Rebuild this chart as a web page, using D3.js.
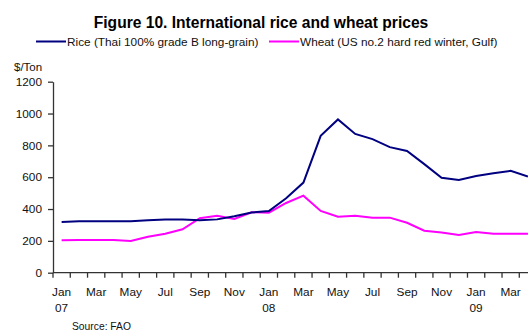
<!DOCTYPE html>
<html>
<head>
<meta charset="utf-8">
<script src="https://cdn.jsdelivr.net/npm/d3@7"></script>
<style>
  body { margin: 0; background: #fff; }
  svg { display: block; font-family: "Liberation Sans", Arial, sans-serif; }
</style>
</head>
<body>
<svg id="chart"></svg>
<script>
// monthly categories, Jan 07 .. Apr 09
var months = ["Jan 07","Feb 07","Mar 07","Apr 07","May 07","Jun 07","Jul 07","Aug 07","Sep 07","Oct 07","Nov 07","Dec 07",
              "Jan 08","Feb 08","Mar 08","Apr 08","May 08","Jun 08","Jul 08","Aug 08","Sep 08","Oct 08","Nov 08","Dec 08",
              "Jan 09","Feb 09","Mar 09","Apr 09"];
var monthLabels = ["Jan","","Mar","","May","","Jul","","Sep","","Nov","",
                   "Jan","","Mar","","May","","Jul","","Sep","","Nov","",
                   "Jan","","Mar",""];
var yearLabels = ["07","","","","","","","","","","","",
                  "08","","","","","","","","","","","",
                  "09","","",""];

var rice = [319, 323, 324, 324, 324, 330, 335, 335, 330, 335, 355, 378,
            388, 468, 566, 860, 963, 872, 839, 789, 765, 682, 597, 583,
            608, 625, 640, 604];
var wheat = [204, 205, 205, 205, 199, 226, 245, 273, 342, 357, 338, 380,
             377, 438, 484, 388, 352, 358, 346, 346, 314, 264, 252, 237,
             256, 245, 245, 245];

var yTicks = [0, 200, 400, 600, 800, 1000, 1200];

var width = 528, height = 331;
var svg = d3.select("#chart").attr("width", width).attr("height", height);

var left = 53, bw = 17.27;
var x = d3.scaleBand().domain(months).range([left, left + bw * months.length]).paddingInner(0).paddingOuter(0);
var y = d3.scaleLinear().domain([0, 1200]).range([272.7, 81.7]);

var axisColor = "#333";

// title
svg.append("text")
    .attr("x", 261).attr("y", 28)
    .attr("text-anchor", "middle")
    .attr("font-size", 15.6).attr("font-weight", "bold")
    .text("Figure 10. International rice and wheat prices");

// legend
var legend = [
    {name: "Rice (Thai 100% grade B long-grain)", color: "#000080", x: 36},
    {name: "Wheat (US no.2 hard red winter, Gulf)", color: "#ff00ff", x: 269}
];
legend.forEach(function(l) {
    svg.append("line")
        .attr("x1", l.x).attr("x2", l.x + 30)
        .attr("y1", 41.5).attr("y2", 41.5)
        .attr("stroke", l.color).attr("stroke-width", 2);
    svg.append("text")
        .attr("x", l.x + 31).attr("y", 45.5)
        .attr("font-size", 11.8).attr("fill", "#111")
        .text(l.name);
});

// y axis
svg.append("text")
    .attr("x", 14).attr("y", 70.5)
    .attr("font-size", 11.5).attr("fill", "#111")
    .text("$/Ton");

var yAxis = d3.axisLeft(y).tickValues(yTicks).tickFormat(d3.format("d"))
    .tickSize(5).tickPadding(6).tickSizeOuter(0);
var gy = svg.append("g").attr("transform", "translate(" + left + ",0)").call(yAxis);
gy.select(".domain").attr("stroke", axisColor).attr("stroke-width", 1.3);
gy.selectAll(".tick line").attr("stroke", axisColor).attr("stroke-width", 1.3);
gy.selectAll(".tick text").attr("font-size", 11.8).attr("font-family", "Liberation Sans, Arial, sans-serif").attr("fill", "#111");

// x axis (category boundaries as ticks)
var x0 = y(0);
svg.append("line")
    .attr("x1", x.range()[0]).attr("x2", x.range()[1])
    .attr("y1", x0).attr("y2", x0)
    .attr("stroke", axisColor).attr("stroke-width", 1.3);
var bounds = months.map(function(m) { return x(m); }).concat([x.range()[1]]);
svg.append("g").selectAll("line").data(bounds).enter().append("line")
    .attr("x1", function(d) { return d; }).attr("x2", function(d) { return d; })
    .attr("y1", x0).attr("y2", x0 + 5)
    .attr("stroke", axisColor).attr("stroke-width", 1.3);

var cx = function(i) { return x(months[i]) + x.bandwidth() / 2; };

svg.append("g").selectAll("text").data(monthLabels).enter().append("text")
    .attr("x", function(d, i) { return cx(i); })
    .attr("y", 295.5)
    .attr("text-anchor", "middle")
    .attr("font-size", 11.8).attr("fill", "#111")
    .text(function(d) { return d; });
svg.append("g").selectAll("text").data(yearLabels).enter().append("text")
    .attr("x", function(d, i) { return cx(i); })
    .attr("y", 312)
    .attr("text-anchor", "middle")
    .attr("font-size", 11.8).attr("fill", "#111")
    .text(function(d) { return d; });

// lines
var line = d3.line()
    .x(function(d, i) { return cx(i); })
    .y(function(d) { return y(d); });

svg.append("path").datum(wheat)
    .attr("d", line).attr("fill", "none")
    .attr("stroke", "#ff00ff").attr("stroke-width", 2);
svg.append("path").datum(rice)
    .attr("d", line).attr("fill", "none")
    .attr("stroke", "#000080").attr("stroke-width", 2);

// source
svg.append("text")
    .attr("x", 72).attr("y", 329.5)
    .attr("font-size", 10.3).attr("fill", "#111")
    .text("Source: FAO");
</script>
</body>
</html>
